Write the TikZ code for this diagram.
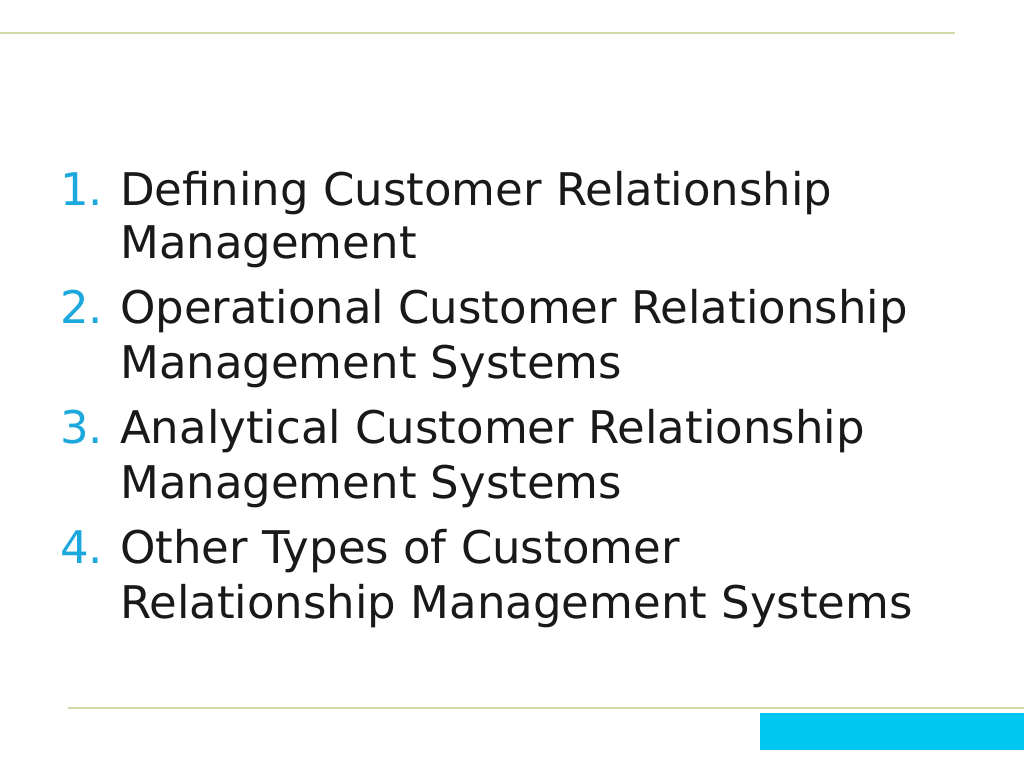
\documentclass[tikz,border=0pt]{standalone}
\usepackage{fontspec}
\setmainfont{DejaVu Sans}
\definecolor{numc}{HTML}{1CA8DC}
\definecolor{linec}{HTML}{CFDCA8}
\definecolor{boxc}{HTML}{00C6F2}
\begin{document}
\begin{tikzpicture}[x=1pt,y=-1pt,
  txt/.style={anchor=base west,inner sep=0pt,font=\fontsize{45}{45}\selectfont,text=black!90},
  num/.style={txt,text=numc}]
\useasboundingbox (0,0) rectangle (1024,768);
\fill[white] (0,0) rectangle (1024,768);
\draw[linec,line width=2.5pt] (0,33) -- (955,33);
\draw[linec,line width=2.5pt] (68,708) -- (1024,708);
\fill[boxc] (760,713) rectangle (1024,750);
\node[num] (n1) at (60,205) {1.};
\node[txt] (t1a) at (120,205) {Defining Customer Relationship};
\node[txt] (t1b) at (120,258) {Management};
\node[num] (n2) at (60,323) {2.};
\node[txt] (t2a) at (120,323) {Operational Customer Relationship};
\node[txt] (t2b) at (120,378) {Management Systems};
\node[num] (n3) at (60,443) {3.};
\node[txt] (t3a) at (120,443) {Analytical Customer Relationship};
\node[txt] (t3b) at (120,498) {Management Systems};
\node[num] (n4) at (60,563) {4.};
\node[txt] (t4a) at (120,563) {Other Types of Customer};
\node[txt] (t4b) at (120,618) {Relationship Management Systems};
\end{tikzpicture}
\end{document}
